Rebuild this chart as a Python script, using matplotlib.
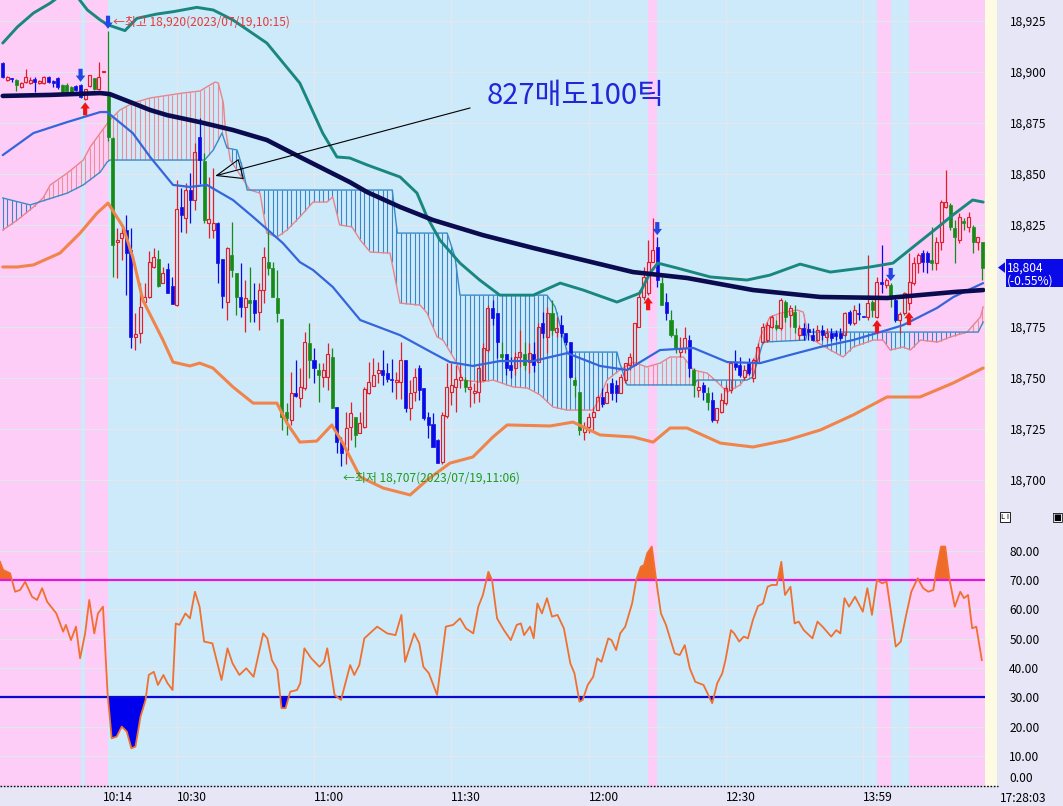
import numpy as np
import matplotlib
matplotlib.use("Agg")
import matplotlib.pyplot as plt
from matplotlib.patches import Rectangle, Polygon
from matplotlib.lines import Line2D
import matplotlib.transforms as mtransforms

plt.rcParams['font.family'] = ['Noto Sans CJK KR', 'DejaVu Sans']

# ---------------- data ----------------
time_ticks = [22, 38, 68, 98, 128, 158, 188]
time_labels = ['10:14', '10:30', '11:00', '11:30', '12:00', '12:30', '13:59']
grid_times = [38, 68, 98, 128, 158, 188]
price_ticks = [18700, 18725, 18750, 18775, 18800, 18825, 18850, 18875, 18900, 18925]
rsi_ticks = [0, 10, 20, 30, 40, 50, 60, 70, 80]

opens = [
    18904.2, 18896.0, 18896.5, 18896.0, 18892.5, 18895.0, 18894.5, 18896.4, 18894.4, 18894.4,
    18897.4, 18895.3, 18896.9, 18893.5, 18893.5, 18892.5, 18893.0, 18893.5, 18886.5, 18893.0,
    18896.9, 18891.5, 18899.8, 18888.6, 18867.5, 18816.5, 18818.5, 18822.4, 18812.6, 18770.0,
    18771.9, 18787.1, 18789.6, 18804.3, 18808.2, 18796.4, 18803.3, 18795.0, 18785.6, 18833.7,
    18828.3, 18842.0, 18837.1, 18868.0, 18856.0, 18826.0, 18822.4, 18825.8, 18808.0, 18787.1,
    18810.0, 18801.3, 18789.6, 18784.7, 18788.1, 18788.1, 18782.2, 18793.0, 18806.7, 18803.8,
    18789.1, 18778.8, 18733.2, 18729.3, 18742.5, 18740.0, 18745.0, 18767.0, 18758.7, 18753.8,
    18750.4, 18750.4, 18760.0, 18735.7, 18718.5, 18714.6, 18726.0, 18730.8, 18723.0, 18725.9,
    18742.5, 18746.0, 18752.3, 18753.8, 18752.3, 18749.5, 18747.9, 18748.0, 18758.7, 18735.2,
    18743.0, 18754.8, 18745.0, 18730.8, 18727.4, 18719.5, 18708.7, 18731.3, 18743.0, 18745.5,
    18748.9, 18748.9, 18744.5, 18742.5, 18743.0, 18748.9, 18763.6, 18784.2, 18781.7, 18761.7,
    18761.7, 18756.3, 18754.8, 18760.2, 18761.7, 18757.7, 18761.7, 18757.7, 18776.8, 18770.0,
    18781.7, 18772.4, 18775.8, 18771.9, 18767.5, 18748.9, 18743.0, 18723.4, 18726.0, 18730.8,
    18734.2, 18740.6, 18737.6, 18747.4, 18746.5, 18742.5, 18748.9, 18756.3, 18756.3, 18774.9,
    18789.6, 18791.5, 18806.7, 18814.0, 18796.4, 18787.1, 18778.3, 18770.9, 18762.6, 18764.6,
    18768.5, 18753.8, 18744.0, 18746.5, 18742.5, 18739.1, 18729.3, 18733.2, 18737.6, 18744.0,
    18757.2, 18756.3, 18750.4, 18757.2, 18749.9, 18757.7, 18767.5, 18768.5, 18775.0, 18775.8,
    18774.4, 18787.1, 18780.8, 18782.2, 18771.0, 18774.4, 18774.0, 18771.0, 18768.5, 18773.4,
    18769.9, 18771.9, 18771.9, 18771.9, 18771.0, 18782.2, 18776.8, 18781.7, 18780.0, 18779.8,
    18787.1, 18779.8, 18796.9, 18795.4, 18795.4, 18788.1, 18778.3, 18781.7, 18786.6, 18796.4,
    18806.2, 18811.1, 18811.1, 18807.7, 18806.2, 18816.5, 18833.7, 18834.7, 18823.4, 18817.5,
    18826.8, 18823.9, 18823.9, 18816.5, 18816.5]
highs = [
    18904.7, 18898.0, 18896.8, 18896.5, 18895.0, 18901.3, 18897.5, 18897.5, 18895.8, 18898.0,
    18897.8, 18896.0, 18897.5, 18894.0, 18894.5, 18893.0, 18893.5, 18894.0, 18891.5, 18898.5,
    18897.0, 18904.7, 18900.2, 18920.0, 18868.0, 18823.4, 18824.0, 18829.8, 18823.4, 18781.7,
    18796.4, 18796.4, 18812.0, 18813.6, 18812.6, 18804.3, 18806.2, 18799.4, 18847.0, 18843.0,
    18845.4, 18850.3, 18865.0, 18877.5, 18860.0, 18848.4, 18853.0, 18826.3, 18808.2, 18814.1,
    18826.3, 18801.3, 18806.2, 18797.9, 18804.3, 18796.4, 18796.4, 18814.0, 18822.4, 18806.7,
    18802.8, 18778.8, 18737.6, 18753.0, 18758.7, 18754.8, 18772.4, 18776.8, 18764.6, 18757.2,
    18757.2, 18767.0, 18764.6, 18735.7, 18721.0, 18733.0, 18738.0, 18730.8, 18733.2, 18745.5,
    18757.7, 18759.7, 18757.7, 18763.6, 18757.2, 18759.2, 18752.8, 18767.5, 18758.7, 18748.9,
    18754.8, 18756.3, 18745.0, 18733.2, 18732.7, 18720.0, 18733.0, 18757.2, 18757.2, 18756.3,
    18756.3, 18750.4, 18748.9, 18747.4, 18757.2, 18767.0, 18785.6, 18788.1, 18781.7, 18767.5,
    18761.7, 18760.2, 18762.6, 18773.4, 18767.5, 18767.0, 18767.5, 18776.8, 18782.2, 18784.7,
    18788.1, 18779.8, 18780.8, 18771.9, 18767.5, 18750.4, 18743.0, 18728.3, 18732.7, 18735.7,
    18741.6, 18745.0, 18747.4, 18749.9, 18748.9, 18751.8, 18757.2, 18762.1, 18777.0, 18793.0,
    18804.3, 18817.5, 18828.3, 18818.9, 18799.4, 18791.5, 18783.2, 18774.4, 18769.9, 18774.9,
    18770.9, 18754.8, 18748.9, 18747.9, 18745.5, 18743.0, 18735.2, 18742.5, 18746.5, 18757.7,
    18763.6, 18760.2, 18756.3, 18759.7, 18759.7, 18767.0, 18776.8, 18777.3, 18780.8, 18778.3,
    18789.1, 18788.1, 18785.6, 18785.6, 18775.8, 18776.8, 18776.8, 18774.4, 18775.8, 18775.8,
    18774.4, 18774.4, 18773.4, 18774.4, 18782.2, 18783.2, 18785.6, 18786.6, 18780.0, 18810.0,
    18788.1, 18799.4, 18815.0, 18798.9, 18796.4, 18789.1, 18782.2, 18792.0, 18811.0, 18809.2,
    18811.1, 18812.6, 18812.0, 18823.9, 18819.0, 18837.1, 18851.8, 18835.6, 18827.3, 18830.7,
    18828.3, 18831.2, 18824.9, 18819.0, 18816.5]
lows = [
    18897.0, 18895.5, 18895.0, 18890.5, 18892.0, 18894.5, 18894.0, 18890.0, 18894.0, 18894.0,
    18894.5, 18892.5, 18891.5, 18889.5, 18890.0, 18889.5, 18890.5, 18887.0, 18886.0, 18892.5,
    18891.0, 18891.0, 18899.8, 18866.0, 18799.4, 18799.0, 18807.7, 18790.5, 18764.6, 18763.6,
    18767.0, 18786.6, 18789.0, 18803.8, 18794.5, 18796.4, 18791.5, 18786.0, 18785.0, 18821.4,
    18821.0, 18826.0, 18832.0, 18845.0, 18826.0, 18818.5, 18818.5, 18796.4, 18784.2, 18778.3,
    18799.4, 18780.8, 18779.8, 18772.4, 18777.3, 18777.3, 18773.4, 18786.6, 18800.3, 18789.6,
    18777.3, 18724.4, 18722.0, 18727.0, 18740.6, 18735.7, 18744.0, 18749.9, 18747.4, 18738.1,
    18745.5, 18744.0, 18735.0, 18713.0, 18707.0, 18708.0, 18719.5, 18716.0, 18722.9, 18725.4,
    18742.0, 18746.0, 18747.4, 18746.5, 18747.9, 18743.0, 18739.6, 18739.6, 18733.2, 18729.3,
    18738.6, 18739.0, 18729.3, 18720.5, 18716.1, 18708.2, 18708.0, 18730.3, 18736.7, 18733.2,
    18745.0, 18743.0, 18735.7, 18737.6, 18738.1, 18748.9, 18762.6, 18775.8, 18759.7, 18758.7,
    18751.4, 18749.9, 18751.4, 18755.3, 18753.8, 18752.3, 18752.8, 18757.7, 18769.5, 18762.1,
    18771.0, 18769.9, 18769.9, 18766.0, 18750.0, 18740.6, 18722.0, 18719.5, 18723.0, 18724.4,
    18734.2, 18735.7, 18737.6, 18739.1, 18738.1, 18742.5, 18747.4, 18753.8, 18756.0, 18774.9,
    18788.1, 18790.5, 18806.7, 18794.5, 18785.6, 18778.3, 18769.9, 18762.1, 18760.2, 18762.1,
    18750.4, 18740.6, 18740.6, 18739.1, 18734.2, 18728.3, 18727.8, 18732.7, 18736.7, 18742.5,
    18753.8, 18750.4, 18748.9, 18751.4, 18747.9, 18757.2, 18767.0, 18767.5, 18774.4, 18773.4,
    18773.4, 18777.3, 18774.9, 18771.9, 18768.5, 18768.5, 18768.5, 18768.0, 18768.0, 18768.5,
    18768.0, 18768.0, 18768.5, 18768.5, 18770.4, 18775.8, 18775.8, 18778.3, 18779.6, 18778.3,
    18779.8, 18779.3, 18791.5, 18794.0, 18784.7, 18777.3, 18771.9, 18780.8, 18783.2, 18795.4,
    18801.3, 18801.8, 18801.3, 18802.8, 18802.8, 18812.6, 18833.2, 18822.4, 18806.2, 18816.0,
    18822.4, 18821.4, 18811.1, 18812.6, 18797.9]
closes = [
    18897.4, 18897.4, 18896.3, 18893.5, 18894.5, 18897.5, 18895.8, 18895.0, 18895.4, 18897.4,
    18895.0, 18894.6, 18892.5, 18890.0, 18890.5, 18890.0, 18891.0, 18887.5, 18891.3, 18898.3,
    18891.5, 18897.4, 18900.2, 18868.0, 18815.0, 18817.5, 18821.0, 18811.0, 18770.0, 18771.5,
    18784.7, 18789.6, 18806.7, 18809.2, 18795.0, 18801.3, 18791.5, 18786.0, 18832.7, 18829.8,
    18842.0, 18837.1, 18860.6, 18856.7, 18827.3, 18827.8, 18826.0, 18806.2, 18790.0, 18813.6,
    18802.8, 18789.6, 18784.7, 18789.1, 18786.6, 18781.7, 18793.0, 18809.2, 18803.8, 18789.6,
    18781.7, 18730.8, 18730.3, 18742.5, 18741.0, 18745.5, 18767.5, 18758.7, 18754.8, 18751.4,
    18753.8, 18761.6, 18735.2, 18718.5, 18713.0, 18725.4, 18732.7, 18722.0, 18727.8, 18744.5,
    18748.0, 18751.4, 18753.8, 18751.4, 18749.4, 18749.0, 18748.9, 18758.7, 18735.2, 18742.5,
    18750.4, 18744.0, 18730.3, 18726.9, 18716.1, 18708.2, 18731.8, 18745.5, 18746.5, 18749.4,
    18750.4, 18745.5, 18745.5, 18743.5, 18754.8, 18764.6, 18784.2, 18779.3, 18767.5, 18760.2,
    18754.8, 18753.8, 18760.2, 18762.6, 18756.3, 18762.1, 18756.3, 18774.9, 18771.9, 18781.7,
    18773.4, 18774.4, 18771.9, 18767.5, 18750.4, 18746.5, 18724.4, 18725.9, 18730.8, 18733.2,
    18740.6, 18737.1, 18743.0, 18742.5, 18742.5, 18750.4, 18757.2, 18760.2, 18776.8, 18789.6,
    18799.4, 18806.7, 18812.6, 18797.9, 18785.6, 18781.7, 18770.9, 18764.6, 18764.1, 18769.5,
    18754.8, 18746.5, 18745.5, 18743.0, 18738.1, 18729.3, 18735.2, 18739.1, 18745.0, 18757.2,
    18755.3, 18751.4, 18753.8, 18752.3, 18758.7, 18765.1, 18774.9, 18775.8, 18779.8, 18774.4,
    18788.1, 18779.8, 18784.2, 18774.9, 18774.4, 18771.0, 18772.5, 18768.5, 18773.4, 18770.9,
    18771.9, 18769.5, 18770.4, 18769.5, 18781.7, 18776.8, 18783.2, 18781.2, 18779.8, 18786.6,
    18783.2, 18797.0, 18795.9, 18797.9, 18789.6, 18778.3, 18781.2, 18791.5, 18797.0, 18806.2,
    18810.2, 18806.7, 18806.7, 18806.2, 18816.5, 18836.1, 18836.1, 18823.9, 18819.0, 18828.8,
    18825.8, 18828.8, 18816.5, 18819.0, 18804.0]
kinds = ("brbgrrrbrrbbbgggbbrrgrr"
         "ggrrbbrrrrrgrbbrbrbrbgrrbbrggbrgbrrgggggrbrrgbgrr"
         "gbbrrgrrrrrbbbrrbrrbbbbbrrrrrgrrrrrbbgbbrrgrbrbrgrbb"
         "bggrrrrbrbbrrrrrrrrbgbggrrbgrbgbrrrrbbrbrrrrrgrg"
         "rgrbbbrbrbbbrbrbbrgrbrgbrrrrrbbgrrrggrgrgrg")

buy_sig = [18, 141, 191, 198]
sell_sig = [17, 23, 143, 194]

# long moving average (navy)
navy_idx = [0, 10.4, 21.3, 23.4, 28.4, 32.2, 35.9, 43.0, 50.3, 57.7, 64.9, 75.8, 79.6, 86.8,
            94.0, 104.9, 115.9, 126.8, 137.7, 149.5, 163.9, 178.6, 193.2, 207.7, 214.2]
navy_val = [18888.1, 18888.6, 18889.5, 18889.0, 18884.6, 18881.2, 18878.7, 18875.3, 18871.4,
            18866.5, 18858.2, 18845.9, 18841.0, 18833.7, 18827.3, 18819.9, 18813.6, 18807.7,
            18801.8, 18798.9, 18793.0, 18789.6, 18789.1, 18792.0, 18793.0]
# middle moving average (blue)
mid_idx = [0, 6.7, 14.1, 21.3, 22.8, 28.4, 32.2, 37.2, 40.9, 44.6, 50.3, 54.7, 61.2, 64.9,
           67.8, 72.1, 78.1, 86.8, 94.0, 97.7, 102.7, 108.6, 115.9, 123.3, 130.5, 136.4,
           143.6, 150.9, 158.3, 165.5, 172.0, 178.6, 185.8, 193.2, 196.7, 204.1, 207.7, 214.2]
mid_val = [18859.1, 18869.9, 18875.3, 18880.2, 18880.2, 18869.9, 18858.2, 18844.5, 18843.5,
           18844.5, 18837.1, 18828.8, 18816.0, 18806.7, 18802.8, 18794.5, 18778.3, 18770.9,
           18762.1, 18757.7, 18755.8, 18758.2, 18758.2, 18762.1, 18755.8, 18753.8, 18763.6,
           18764.6, 18757.7, 18757.2, 18761.2, 18765.1, 18768.5, 18773.4, 18775.8, 18784.2,
           18789.6, 18796.4]
# upper band (teal)
up_idx = [0, 3.2, 6.7, 10.4, 12.3, 14.1, 16.5, 18.5, 21.3, 23.0, 26.7, 29.3, 33.6, 37.3, 42.4,
          46.0, 50.3, 57.7, 64.9, 69.9, 73.0, 75.8, 79.6, 86.8, 90.5, 92.7, 95.5, 99.9, 104.2,
          108.6, 115.9, 121.8, 126.8, 134.2, 139.2, 141.4, 143.1, 147.3, 154.6, 162.6, 167.6,
          174.2, 180.8, 189.5, 194.5, 198.9, 204.1, 207.6, 211.9, 214.2]
up_val = [18914.0, 18921.9, 18928.7, 18933.6, 18936.8, 18937.5, 18936.0, 18930.2, 18925.3,
          18922.9, 18920.1, 18926.1, 18928.2, 18929.4, 18931.5, 18930.2, 18925.3, 18914.0,
          18894.4, 18869.9, 18858.2, 18857.7, 18854.3, 18848.4, 18840.5, 18828.8, 18817.5,
          18806.2, 18797.9, 18790.5, 18790.5, 18796.4, 18793.0, 18787.1, 18791.5, 18801.3,
          18806.2, 18803.8, 18799.4, 18797.9, 18800.3, 18805.7, 18801.8, 18804.3, 18806.2,
          18814.1, 18823.4, 18829.8, 18837.1, 18836.1]
# lower band (orange)
low_idx = [0, 3.2, 6.7, 12.5, 16.9, 20.6, 23.0, 26.3, 28.4, 30.6, 35.0, 37.2, 40.9, 43.0, 45.9,
           50.3, 54.7, 59.9, 62.1, 64.9, 68.6, 71.9, 74.3, 78.1, 83.1, 89.0, 92.7, 97.7, 102.7,
           107.1, 110.2, 119.6, 124.6, 130.5, 137.7, 142.1, 145.8, 149.5, 156.8, 163.9, 171.4,
           178.6, 185.8, 193.2, 200.4, 207.6, 214.2]
low_val = [18804.3, 18804.3, 18805.3, 18811.1, 18820.9, 18830.7, 18835.6, 18823.9, 18809.2,
           18788.1, 18768.5, 18757.7, 18755.8, 18757.2, 18754.8, 18745.5, 18737.6, 18737.6,
           18727.8, 18718.5, 18719.0, 18726.9, 18718.0, 18701.4, 18696.0, 18692.6, 18699.9,
           18708.2, 18711.2, 18721.0, 18726.9, 18726.4, 18728.3, 18722.0, 18721.0, 18718.5,
           18725.4, 18725.4, 18718.0, 18716.1, 18719.5, 18724.4, 18731.8, 18740.6, 18740.6,
           18747.4, 18754.8]
# cloud span A (pink) and span B (blue)
sa_idx = [0, 3.2, 6.7, 8.8, 10.4, 14.1, 17.6, 19.1, 21.3, 23.4, 25.6, 28.4, 32.2, 39.3, 43.1,
          45.3, 46.4, 47.1, 48.2, 48.6, 49.7, 51.9, 54.0, 56.2, 57.7, 59.9, 62.1, 64.9, 67.8,
          70.8, 72.1, 73.6, 76.3, 78.1, 80.3, 84.6, 86.8, 91.2, 92.7, 94.9, 96.2, 99.2, 100.5,
          104.2, 107.1, 111.5, 114.6, 117.4, 120.2, 123.3, 129.0, 130.5, 132.0, 134.8, 137.7,
          140.7, 143.6, 145.8, 148.7, 150.9, 153.9, 156.1, 158.3, 161.1, 163.9, 165.5, 167.6,
          169.9, 173.6, 174.9, 175.8, 177.1, 180.8, 183.6, 185.8, 190.2, 192.3, 193.9, 196.7,
          198.3, 200.5, 204.2, 207.0, 210.7, 213.6, 214.2]
sa_val = [18822.4, 18827.3, 18833.7, 18838.1, 18844.5, 18850.3, 18856.7, 18863.1, 18869.9,
          18876.3, 18881.2, 18884.6, 18887.1, 18889.5, 18890.5, 18893.5, 18894.9, 18894.4,
          18884.6, 18872.9, 18856.7, 18849.3, 18842.0, 18840.5, 18820.9, 18818.9, 18822.4,
          18828.8, 18836.1, 18836.1, 18838.6, 18824.9, 18823.9, 18817.5, 18811.6, 18811.1,
          18786.6, 18785.6, 18781.7, 18770.0, 18768.5, 18757.2, 18748.9, 18747.9, 18748.9,
          18745.5, 18745.0, 18741.6, 18735.7, 18734.2, 18734.2, 18740.6, 18748.9, 18753.8,
          18757.7, 18755.3, 18757.2, 18760.2, 18760.2, 18753.8, 18752.3, 18747.9, 18743.0,
          18746.5, 18755.3, 18770.0, 18779.8, 18781.7, 18783.2, 18782.2, 18772.4, 18768.5,
          18763.6, 18760.2, 18765.1, 18768.5, 18768.5, 18763.6, 18765.1, 18763.6, 18768.5,
          18767.5, 18770.0, 18772.4, 18779.8, 18784.7]
sb_idx = [0, 6.0, 14.1, 17.6, 21.3, 22.8, 23.4, 44.1, 46.0, 47.9, 49.0, 51.2, 52.5, 53.4, 85.1,
          86.2, 97.1, 98.8, 99.9, 118.9, 120.7, 123.3, 134.2, 134.8, 136.4, 150.9, 151.7, 162.6,
          163.9, 166.1, 175.4, 175.8, 213.1, 214.2]
sb_val = [18838.1, 18834.7, 18840.5, 18844.5, 18850.8, 18855.7, 18856.7, 18856.7, 18861.6,
          18869.9, 18862.6, 18861.6, 18851.8, 18842.0, 18842.0, 18820.9, 18820.9, 18809.2,
          18790.5, 18790.5, 18784.7, 18762.6, 18762.6, 18757.2, 18746.5, 18746.5, 18748.9,
          18748.9, 18750.4, 18767.5, 18768.5, 18772.4, 18772.4, 18777.3]

# RSI
rsi_idx = [-0.6, 0.1, 1.6, 2.7, 3.8, 4.9, 6.4, 7.5, 8.6, 9.7,
           11.7, 13.2, 13.8, 14.9, 16.0, 16.9, 18.0, 18.9, 20.0, 20.8,
           21.9, 22.9, 23.8, 24.9, 26.0, 27.1, 28.1, 29.0, 30.1, 31.2,
           31.9, 33.0, 33.9, 35.1, 36.0, 37.1, 37.8, 38.6, 39.9, 40.9,
           42.0, 43.0, 44.0, 45.8, 47.8, 49.1, 50.2, 51.7, 53.2, 54.8,
           56.9, 57.8, 58.8, 60.0, 60.9, 61.8, 62.8, 64.3, 65.0, 65.9,
           67.4, 69.2, 70.2, 70.9, 72.5, 73.9, 75.9, 76.8, 77.9, 79.0,
           81.8, 84.0, 85.8, 87.1, 87.9, 89.9, 91.0, 91.9, 93.1, 94.9,
           96.8, 98.4, 99.9, 101.2, 102.8, 103.9, 104.9, 106.1, 106.9, 108.0,
           109.5, 111.0, 112.3, 113.2, 113.9,
           115.2, 116.0, 116.8, 117.8, 118.9, 120.0, 121.2, 122.6, 124.0, 124.9,
           126.0, 126.7, 127.8, 129.0, 129.9, 130.8, 132.3, 133.0, 134.0, 134.9,
           136.0, 137.5, 138.4, 139.4, 140.1, 140.8, 141.8, 142.7, 143.8, 144.9,
           146.8, 147.9, 149.0, 150.1, 151.3, 153.1, 155.0, 156.1, 157.2, 157.9,
           159.1, 159.8, 160.9, 161.9, 162.8, 163.9, 165.0, 166.1, 167.1, 168.0,
           169.1, 170.1, 170.9, 172.1, 173.0, 173.9, 175.0, 176.9, 178.0, 179.1,
           181.0, 182.1, 183.0, 183.9, 184.9, 186.2, 187.9, 188.9, 189.9, 191.0,
           192.1, 193.1, 194.0, 195.1, 196.2, 197.3, 198.5, 199.9, 201.1, 202.2,
           203.3, 204.0, 205.0, 205.9, 206.8, 208.0, 209.2, 210.0, 210.9, 211.8,
           212.7, 213.9]
rsi_val = [76.2, 73.4, 72.3, 66.0, 66.6, 69.4, 64.3, 63.2, 67.2, 62.6,
           58.6, 52.4, 54.7, 49.5, 54.1, 43.3, 51.8, 63.2, 51.8, 58.6,
           60.9, 31.4, 16.0, 16.6, 20.0, 18.3, 12.6, 13.2, 23.4, 29.1,
           37.6, 38.7, 34.2, 37.6, 34.8, 32.5, 55.2, 54.7, 58.6, 56.9,
           66.0, 60.9, 49.0, 48.4, 35.9, 46.7, 41.6, 37.6, 39.9, 37.0,
           51.8, 50.1, 42.7, 39.3, 26.3, 26.3, 31.9, 32.5, 34.8, 46.7,
           43.3, 40.4, 42.1, 46.7, 30.8, 29.1, 41.0, 37.6, 41.0, 50.1,
           54.1, 51.8, 51.2, 58.1, 42.1, 51.8, 48.4, 40.4, 38.2, 30.8,
           54.1, 54.7, 56.9, 53.5, 51.8, 60.9, 64.9, 72.8, 70.0, 56.9,
           52.9, 49.5, 54.7, 55.2, 51.2,
           54.1, 50.1, 62.0, 58.6, 63.8, 57.5, 58.1, 53.5, 41.6, 38.2,
           28.5, 29.1, 34.2, 37.0, 43.3, 42.1, 50.1, 49.5, 46.1, 51.8,
           54.1, 62.0, 70.0, 74.5, 75.1, 79.1, 81.4, 70.6, 58.6, 54.7,
           45.0, 44.4, 47.8, 39.9, 35.3, 34.2, 28.0, 34.8, 38.2, 42.7,
           52.9, 51.8, 49.0, 50.7, 50.1, 56.4, 61.1, 62.0, 67.7, 68.3,
           68.3, 76.2, 64.9, 67.7, 55.2, 55.8, 52.9, 50.1, 55.8, 54.1,
           50.7, 52.9, 51.8, 63.8, 60.9, 64.3, 59.2, 67.2, 58.1, 70.0,
           68.9, 69.4, 59.8, 47.3, 49.0, 57.5, 66.0, 70.6, 67.2, 66.0,
           66.6, 73.4, 81.4, 81.4, 70.6, 60.9, 66.0, 63.8, 64.9, 53.5,
           54.1, 42.7]
rsi_upper, rsi_lower = 70, 30
change_pct = -0.55

# ---------------- style ----------------
W, H = 1063, 806
XMIN, XMAX = -0.6, 214.6
PMIN, PMAX = 18676.9, 18935.1
RMIN, RMAX = -0.24, 88.07
BG_BLUE = '#cdeafa'
BG_PINK = '#fdcdf7'
GRID = '#e3e8ef'
RED = '#e41e28'
BLUE = '#0a0ae6'
GREEN = '#178a17'
LBL = 8.6

fig = plt.figure(figsize=(W / 100, H / 100), dpi=100)
fig.patch.set_facecolor('#e6e6f7')
fig.add_artist(Rectangle((985 / W, 1 - 786 / H), 12 / W, 786 / H, transform=fig.transFigure,
                         facecolor='#fdfce3', edgecolor='none', zorder=0))

ax = fig.add_axes([0, 1 - 527 / H, 985 / W, 527 / H])
axr = fig.add_axes([0, 1 - 786 / H, 985 / W, 259 / H])

# pink (buy) regions
events = sorted([(i, 's') for i in sell_sig] + [(i, 'b') for i in buy_sig])
pink_regions = []
state, start = 'pink', XMIN
for i, k in events:
    if k == 's' and state == 'pink':
        pink_regions.append((start, i))
        state = 'blue'
    elif k == 'b' and state == 'blue':
        start, state = i, 'pink'
if state == 'pink':
    pink_regions.append((start, XMAX))

for a in (ax, axr):
    a.set_facecolor(BG_BLUE)
    for s0, s1 in pink_regions:
        a.axvspan(s0, s1, color=BG_PINK, lw=0, zorder=0)
    for t in grid_times:
        a.axvline(t, color=GRID, lw=0.9, zorder=0.5)
    for s in a.spines.values():
        s.set_visible(False)
    a.set_xlim(XMIN, XMAX)

for p in price_ticks:
    ax.axhline(p, color=GRID, lw=0.9, zorder=0.5)
for r in rsi_ticks[1:]:
    axr.axhline(r, color=GRID, lw=0.9, zorder=0.5)

# ---------------- ichimoku cloud ----------------
grid_i = np.arange(0, 215)
a_i = np.interp(grid_i, sa_idx, sa_val)
b_i = np.interp(grid_i, sb_idx, sb_val)
for i in grid_i:
    col = '#ee8e98' if a_i[i] > b_i[i] else '#3a86c6'
    ax.vlines(i, min(a_i[i], b_i[i]), max(a_i[i], b_i[i]), color=col, lw=0.8, zorder=1)
ax.plot(sa_idx, sa_val, color='#e8848c', lw=1.0, zorder=1.2)
ax.plot(sb_idx, sb_val, color='#3a8ac8', lw=1.0, zorder=1.2)

# ---------------- candles ----------------
cmap = {'r': RED, 'b': BLUE, 'g': GREEN}
bw = 0.66
for i in range(len(opens)):
    o, h, l, c, k = opens[i], highs[i], lows[i], closes[i], kinds[i]
    col = cmap[k]
    top, bot = max(o, c), min(o, c)
    if h > top:
        ax.vlines(i, top, h, color=col, lw=0.9, zorder=3)
    if l < bot:
        ax.vlines(i, l, bot, color=col, lw=0.9, zorder=3)
    hgt = max(top - bot, 0.45)
    if k == 'r':
        ax.add_patch(Rectangle((i - bw / 2, bot), bw, hgt, facecolor='none',
                               edgecolor=col, lw=0.85, zorder=3))
    else:
        ax.add_patch(Rectangle((i - bw / 2, bot), bw, hgt, facecolor=col,
                               edgecolor=col, lw=0.5, zorder=3))

# ---------------- indicator lines ----------------
ax.plot(low_idx, low_val, color='#f0844a', lw=2.2, zorder=4, solid_capstyle='round')
ax.plot(up_idx, up_val, color='#19877f', lw=2.1, zorder=4, solid_capstyle='round')
ax.plot(mid_idx, mid_val, color='#3565dc', lw=1.6, zorder=4, solid_capstyle='round')
ax.plot(navy_idx, navy_val, color='#0b0b4f', lw=3.3, zorder=4.5, solid_capstyle='round')

# ---------------- signal arrows ----------------
arr_style = 'simple,head_length=0.45,head_width=0.68,tail_width=0.3'
for i in sell_sig:
    tip = highs[i] + 1.0
    ax.annotate('', xy=(i, tip), xytext=(i, tip + 6.4),
                arrowprops=dict(arrowstyle=arr_style, mutation_scale=10, color='#2444e6',
                                lw=0, shrinkA=0, shrinkB=0), zorder=7)
for i in buy_sig:
    tip = lows[i] - 1.0
    ax.annotate('', xy=(i, tip), xytext=(i, tip - 6.4),
                arrowprops=dict(arrowstyle=arr_style, mutation_scale=10, color='#f01414',
                                lw=0, shrinkA=0, shrinkB=0), zorder=7)

# ---------------- high / low notes ----------------
i_hi = int(np.argmax(highs))
i_lo = int(np.argmin(lows))
ax.text(i_hi + 1.1, highs[i_hi] + 4.3, f'←최고 {highs[i_hi]:,.0f}(2023/07/19,10:15)',
        color='#e03a3a', fontsize=8.6, va='center', ha='left', zorder=8)
ax.text(i_lo + 0.4, lows[i_lo] - 6.1, f'←최저 {lows[i_lo]:,.0f}(2023/07/19,11:06)',
        color='#1f9a1f', fontsize=8.6, va='center', ha='left', zorder=8)

# ---------------- comment ----------------
ax.text(105.8, 18888.1, '827매도100틱', color='#2424d8', fontsize=21, va='center',
        ha='left', zorder=8)
ax.annotate('', xy=(46.4, 18848.9), xytext=(102.1, 18882.2),
            arrowprops=dict(arrowstyle='-|>,head_length=1.8,head_width=0.7', fc='none',
                            ec='black', lw=0.8, shrinkA=0, shrinkB=0), zorder=8)

# ---------------- axes formatting ----------------
last = closes[-1]
ax.set_ylim(PMIN, PMAX)
ax.yaxis.tick_right()
ax.set_yticks(price_ticks)
# the tick label right under the current-price box is hidden by that box
ax.set_yticklabels(['' if abs(p - last) < 10 else f'{p:,}' for p in price_ticks])
ax.tick_params(axis='y', length=0, pad=18, labelsize=LBL)
ax.tick_params(axis='x', length=0, labelbottom=False)

axr.set_ylim(RMIN, RMAX)
axr.yaxis.tick_right()
axr.set_yticks(rsi_ticks)
axr.set_yticklabels([f'{r:.2f}' for r in rsi_ticks])
axr.tick_params(axis='y', length=0, pad=17.5, labelsize=LBL)
ylbls = axr.get_yticklabels()
ylbls[0].set_va('bottom')
axr.set_xticks(time_ticks)
axr.set_xticklabels(time_labels)
axr.tick_params(axis='x', length=0, pad=3.5, labelsize=LBL)
for t in axr.get_xticklabels():
    t.set_ha('left')

# RSI
ri = np.array(rsi_idx)
rv = np.array(rsi_val)
axr.fill_between(ri, rv, rsi_upper, where=rv > rsi_upper, interpolate=True,
                 color='#f06a28', lw=0, zorder=2)
axr.fill_between(ri, rv, rsi_lower, where=rv < rsi_lower, interpolate=True,
                 color='#0000ee', lw=0, zorder=2)
axr.axhline(rsi_upper, color='#e614e0', lw=1.6, zorder=3)
axr.axhline(rsi_lower, color='#0a0ad2', lw=1.6, zorder=3)
axr.plot(ri, rv, color='#f07030', lw=1.3, zorder=4)

# bottom dotted line and clock
fig.add_artist(Line2D([0, 998 / W], [1 - 786 / H] * 2, transform=fig.transFigure,
                      color='black', lw=1.0, linestyle=(0, (1.2, 1.2)), zorder=5))
fig.text(1000 / W, 1 - 798 / H, '17:28:03', fontsize=LBL, va='center', ha='left')

# small icons
fig.text(1001 / W, 1 - 517 / H, 'L I', fontsize=5.5, va='center', ha='left',
         bbox=dict(boxstyle='square,pad=0.15', fc='white', ec='black', lw=0.6))
fig.text(1052 / W, 1 - 517 / H, '▣', fontsize=9, va='center', ha='left', family='DejaVu Sans')

# current price box
bt = mtransforms.blended_transform_factory(fig.transFigure, ax.transData)
fig.add_artist(Rectangle((1006 / W, last - 9.4), 57 / W, 13.4, transform=bt,
                         facecolor='#0a0ae8', edgecolor='none', zorder=6))
fig.add_artist(Polygon([(998 / W, last), (1005 / W, last + 2.6), (1005 / W, last - 2.6)],
                       closed=True, transform=bt, facecolor='#0a0ae8', edgecolor='none',
                       zorder=6))
fig.text(1007 / W, last - 3.3, f'{last:,.0f}\n({change_pct:.2f}%)', transform=bt,
         color='white', fontsize=LBL, va='center', ha='left', linespacing=0.95, zorder=7)

fig.savefig('out.png', dpi=100, facecolor=fig.get_facecolor())
